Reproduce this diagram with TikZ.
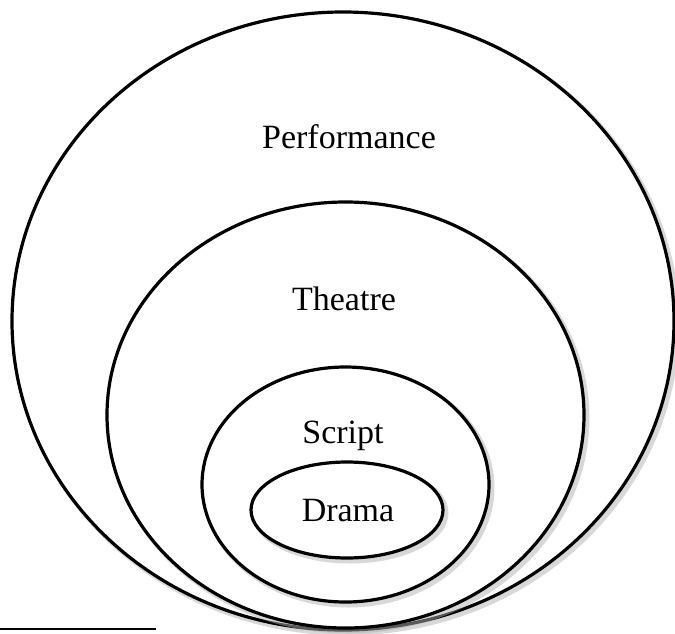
\documentclass[tikz,border=0pt]{standalone}
\usepackage{fontspec}
\setmainfont{Liberation Serif}
\begin{document}
\begin{tikzpicture}[x=1pt,y=-1pt,
  ring/.style={draw=black, line width=3.2pt, fill=white},
  label/.style={font=\fontsize{34}{37}\selectfont, inner sep=0pt, text=black},
  shade/.style={draw=black!30, line width=5pt, opacity=0.5}]
\useasboundingbox (0,0) rectangle (675,633);
% shadows and rings, outer to inner
\draw[shade] (346,324) ellipse [x radius=331, y radius=309];
\draw[ring] (343,321) ellipse [x radius=331, y radius=309];
\node[label] (perf) at (349,137) {Performance};
\draw[shade] (348.5,418) ellipse [x radius=238.5, y radius=213];
\draw[ring] (345.5,415) ellipse [x radius=238.5, y radius=213];
\node[label] (thea) at (344,299) {Theatre};
\draw[shade] (348.5,487.5) ellipse [x radius=143.5, y radius=117.5];
\draw[ring] (345.5,484.5) ellipse [x radius=143.5, y radius=117.5];
\node[label] (scr) at (343,436) {Script};
\draw[shade] (350,513) ellipse [x radius=96, y radius=48];
\draw[ring] (347,510) ellipse [x radius=96, y radius=48];
\node[label] (dra) at (348,511) {Drama};
% footnote rule
\coordinate (fa) at (0,629);
\coordinate (fb) at (156,629);
\draw[line width=2pt] (fa) -- (fb);
\end{tikzpicture}
\end{document}
